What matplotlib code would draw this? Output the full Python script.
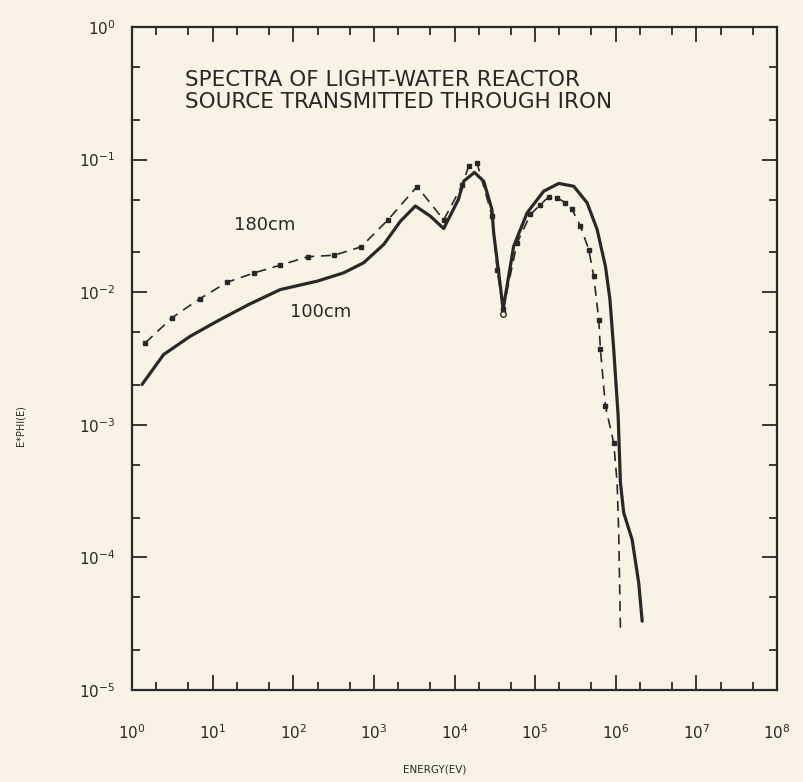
import numpy as np
import matplotlib
matplotlib.use("Agg")
import matplotlib.pyplot as plt
from matplotlib.ticker import LogLocator, FixedLocator, NullFormatter

# energies (eV) and E*phi(E) as log10 values
e_180 = [0.165, 0.496, 0.839, 1.179, 1.517, 1.840, 2.179, 2.510, 2.841, 3.171,
         3.536, 3.866, 4.094, 4.176, 4.280, 4.467, 4.529, 4.603, 4.777, 4.942,
         5.066, 5.169, 5.273, 5.376, 5.459, 5.562, 5.665, 5.727, 5.789, 5.810,
         5.872, 5.975, 6.017, 6.037, 6.058]
phi_180 = [-2.382, -2.193, -2.050, -1.925, -1.854, -1.796, -1.733, -1.721, -1.658, -1.457,
           -1.203, -1.455, -1.195, -1.050, -1.027, -1.427, -1.829, -2.130, -1.627, -1.414,
           -1.339, -1.281, -1.288, -1.326, -1.376, -1.502, -1.678, -1.879, -2.206, -2.432,
           -2.860, -3.136, -3.437, -3.814, -4.544]

e_100 = [0.124, 0.392, 0.723, 1.055, 1.447, 1.840, 2.295, 2.625, 2.873, 3.122,
         3.329, 3.515, 3.701, 3.866, 4.048, 4.114, 4.247, 4.362, 4.464, 4.486,
         4.569, 4.603, 4.734, 4.901, 5.107, 5.293, 5.479, 5.645, 5.769, 5.872,
         5.928, 5.975, 6.030, 6.058, 6.099, 6.203, 6.285, 6.328]
phi_100 = [-2.696, -2.470, -2.332, -2.219, -2.093, -1.980, -1.917, -1.854, -1.778, -1.640,
           -1.465, -1.350, -1.427, -1.520, -1.301, -1.163, -1.097, -1.163, -1.376, -1.552,
           -1.955, -2.130, -1.653, -1.401, -1.238, -1.180, -1.201, -1.326, -1.527, -1.804,
           -2.055, -2.432, -2.935, -3.437, -3.664, -3.865, -4.192, -4.481]

x_ticks = [1e0, 1e1, 1e2, 1e3, 1e4, 1e5, 1e6, 1e7, 1e8]
x_labels = ["$10^{%d}$" % i for i in range(9)]
y_ticks = [1e-5, 1e-4, 1e-3, 1e-2, 1e-1, 1e0]
y_labels = ["$10^{%d}$" % i for i in range(-5, 1)]

paper = "#f8f3e5"
ink = "#2a2826"

fig = plt.figure(figsize=(8.04, 7.82), dpi=100, facecolor=paper)
ax = fig.add_axes([0.1642, 0.1176, 0.8022, 0.8479], facecolor=paper)

ax.plot(10 ** np.array(e_100), 10 ** np.array(phi_100), color=ink, lw=2.3,
        solid_capstyle="round", solid_joinstyle="round")
ax.plot(10 ** np.array(e_180), 10 ** np.array(phi_180), color=ink, lw=1.2,
        dashes=(6, 4), marker="s", markersize=2.6, markevery=list(range(0, 32)))
# open circle at the bottom of the dip
ax.plot(10 ** e_180[17], 10 ** phi_180[17] * 0.93, marker="o", ms=4,
        mfc=paper, mec=ink, mew=1)

ax.set_xscale("log")
ax.set_yscale("log")
ax.set_xlim(1e0, 1e8)
ax.set_ylim(1e-5, 1e0)

ax.xaxis.set_major_locator(FixedLocator(x_ticks))
ax.yaxis.set_major_locator(FixedLocator(y_ticks))
ax.xaxis.set_minor_locator(LogLocator(base=10, subs=(2, 5), numticks=20))
ax.yaxis.set_minor_locator(LogLocator(base=10, subs=(2, 5), numticks=20))
ax.xaxis.set_minor_formatter(NullFormatter())
ax.yaxis.set_minor_formatter(NullFormatter())
ax.set_xticklabels(x_labels)
ax.set_yticklabels(y_labels)

ax.tick_params(which="both", direction="in", top=True, right=True, color=ink, width=1.3)
ax.tick_params(which="major", length=11)
ax.tick_params(which="minor", length=6)
ax.tick_params(axis="x", which="major", pad=24, labelsize=11, labelcolor=ink)
ax.tick_params(axis="y", which="major", pad=12, labelsize=11, labelcolor=ink)
for s in ax.spines.values():
    s.set_color(ink)
    s.set_linewidth(1.6)

ax.text(0.082, 0.920, "SPECTRA OF LIGHT-WATER REACTOR", transform=ax.transAxes,
        fontsize=15.5, color=ink, va="center", ha="left")
ax.text(0.082, 0.887, "SOURCE TRANSMITTED THROUGH IRON", transform=ax.transAxes,
        fontsize=15.5, color=ink, va="center", ha="left")
ax.text(0.205, 0.701, "180cm", transform=ax.transAxes, fontsize=13, color=ink,
        va="center", ha="center")
ax.text(0.293, 0.570, "100cm", transform=ax.transAxes, fontsize=13, color=ink,
        va="center", ha="center")

fig.text(0.541, 0.0166, "ENERGY(EV)", fontsize=7.5, color=ink, ha="center", va="center",
         family=["Liberation Sans Narrow", "DejaVu Sans"])
fig.text(0.025, 1 - 426 / 782, "E*PHI(E)", fontsize=7, color=ink, ha="center", va="center",
         rotation=90, family=["Liberation Sans Narrow", "DejaVu Sans"])

fig.savefig("out.png", dpi=100, facecolor=paper)
